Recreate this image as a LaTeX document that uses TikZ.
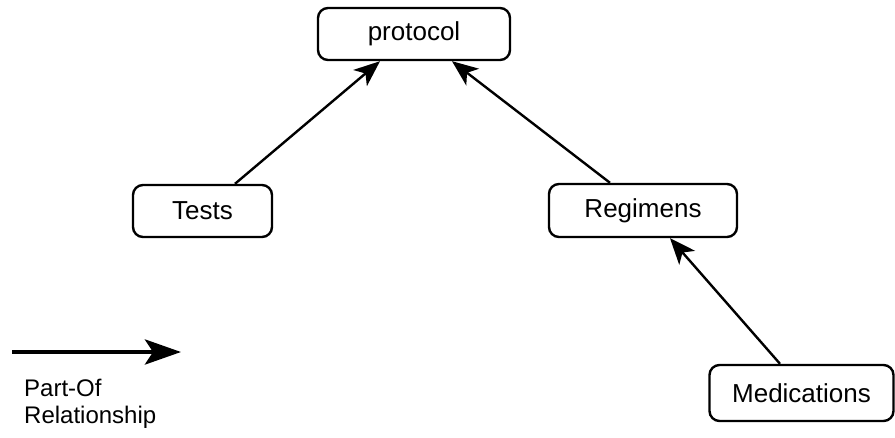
\documentclass[tikz,border=0pt]{standalone}
\usepackage{fontspec}
\setmainfont{Liberation Sans}
\usetikzlibrary{arrows.meta}

\begin{document}
\begin{tikzpicture}[%
  x=1pt, y=-1pt,
  >={Stealth[length=26pt,width=21pt,inset=7pt]},
  entity/.style={draw, line width=2.4pt, rounded corners=10pt, inner sep=0pt,
    font=\fontsize{26}{30}\selectfont},
  partof/.style={->, line width=2.4pt},
]

  \useasboundingbox (0,0) rectangle (895,437);

  \node[entity, minimum width=192pt, minimum height=52pt] (protocol) at (414,34) {protocol};
  \node[entity, minimum width=139pt, minimum height=52pt] (tests) at (202.5,211) {Tests};
  \node[entity, minimum width=188pt, minimum height=53pt] (regimens) at (643,210.5) {Regimens};
  \node[entity, minimum width=184pt, minimum height=56pt] (medications) at (801.5,393) {Medications};

  \draw[partof] ([xshift=32.5pt]tests.north) -- ([xshift=-34pt]protocol.south);
  \draw[partof] ([xshift=-33pt]regimens.north) -- ([xshift=38pt]protocol.south);
  \draw[partof] ([xshift=-21.5pt]medications.north) -- ([xshift=27pt]regimens.south);

  % legend
  \coordinate (legstart) at (12,352);
  \coordinate (legend) at (181,352);
  \draw[->, line width=4.6pt, >={Stealth[length=36pt,width=25pt,inset=8pt]}] (legstart) -- (legend);
  \node[anchor=north west, inner sep=0pt, align=left,
    font=\fontsize{24}{27}\selectfont] (legtext) at (24,379) {Part-Of\\Relationship};

\end{tikzpicture}
\end{document}
